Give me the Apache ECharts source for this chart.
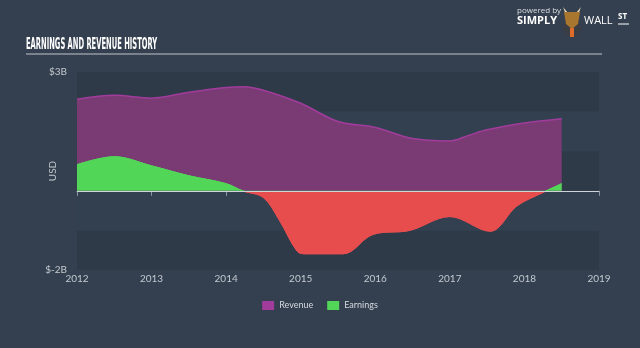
<!DOCTYPE html>
<html>
<head>
<meta charset="utf-8">
<script src="https://cdn.jsdelivr.net/npm/echarts@6/dist/echarts.min.js"></script>
<style>
  html, body { margin: 0; padding: 0; background: #34404f; }
  #chart { width: 640px; height: 348px; }
</style>
</head>
<body>
<div id="chart"></div>
<script>
// Revenue history (USD billions), sampled at decimal-year positions
const revenueYears = [2012.0, 2012.5, 2013.0, 2013.5, 2014.0, 2014.25, 2014.5, 2015.0, 2015.5, 2016.0, 2016.5, 2017.0, 2017.25, 2017.5, 2018.0, 2018.5];
const revenueValues = [2.31, 2.41, 2.34, 2.49, 2.61, 2.63, 2.54, 2.21, 1.75, 1.60, 1.32, 1.26, 1.40, 1.54, 1.71, 1.82];

// Earnings history (USD billions)
const earningsYears = [2012.0, 2012.5, 2013.0, 2013.5, 2014.0, 2014.22, 2014.5, 2014.72, 2014.95, 2015.05, 2015.57, 2015.97, 2016.46, 2017.0, 2017.54, 2017.9, 2018.25, 2018.5];
const earningsValues = [0.66, 0.86, 0.63, 0.38, 0.18, 0.0, -0.17, -0.76, -1.52, -1.59, -1.59, -1.10, -1.00, -0.65, -1.02, -0.38, -0.04, 0.18];

// Axis range and tick labels
const xMin = 2012, xMax = 2019;
const yMin = -2, yMax = 3;
const yTickLabels = { '3': '$3B', '-2': '$-2B' };

const revenueData = revenueYears.map((y, i) => [y, revenueValues[i]]);
const earningsData = earningsYears.map((y, i) => [y, earningsValues[i]]);

const GREEN = '#51d658', RED = '#e84d4e';

const chart = echarts.init(document.getElementById('chart'));
chart.setOption({
  backgroundColor: '#34404f',
  animation: false,
  grid: { left: 77, right: 41, top: 72, bottom: 78 },
  xAxis: {
    type: 'value', min: xMin, max: xMax, interval: 1,
    axisLine: { lineStyle: { color: '#8e98a4', width: 1 } },
    axisTick: { show: true, length: 5, lineStyle: { color: '#8e98a4' } },
    axisLabel: { color: '#c3c9d0', fontSize: 10, fontFamily: 'Lato', margin: 4, formatter: v => String(v) },
    splitLine: { show: false }
  },
  yAxis: {
    type: 'value', min: yMin, max: yMax, interval: 1,
    name: 'USD', nameLocation: 'middle', nameRotate: 90, nameGap: 19, nameMoveOverlap: false,
    nameTextStyle: { color: '#c3c9d0', fontSize: 10, fontFamily: 'Lato' },
    axisLine: { show: false }, axisTick: { show: false },
    axisLabel: { color: '#c3c9d0', fontSize: 10, fontFamily: 'Lato', margin: 10,
      formatter: v => yTickLabels[String(v)] || '' },
    splitLine: { show: false },
    splitArea: { show: true, areaStyle: { color: ['#2e3a48', '#334050'] } }
  },
  legend: {
    data: ['Revenue', 'Earnings'], bottom: 33, left: 'center', icon: 'rect',
    itemWidth: 12, itemHeight: 9, itemGap: 14,
    textStyle: { color: '#d4d9df', fontSize: 9, fontFamily: 'Lato' }
  },
  series: [
    {
      name: 'Revenue', type: 'line', data: revenueData, smooth: 0.35, symbol: 'none',
      itemStyle: { color: '#a23c9c' },
      lineStyle: { color: '#a23c9c', width: 1.5 },
      areaStyle: { color: '#7a3a74', opacity: 1 },
      z: 2
    },
    {
      name: 'Earnings', type: 'line', data: earningsData, smooth: 0.35, symbol: 'none',
      itemStyle: { color: GREEN },
      lineStyle: { width: 1, color: GREEN },
      areaStyle: { opacity: 1, color: GREEN },
      z: 3,
      markLine: {
        silent: true, symbol: 'none', label: { show: false },
        lineStyle: { color: '#d0d4d9', width: 1, type: 'solid' },
        data: [{ yAxis: 0 }]
      }
    }
  ],
  graphic: [
    { type: 'text', left: 26, top: 38,
      style: { text: 'EARNINGS AND REVENUE HISTORY', fill: '#ffffff',
        font: 'bold 15px "DejaVu Sans"' }, scaleX: 0.45 },
    { type: 'line', shape: { x1: 26, y1: 54, x2: 602, y2: 54 },
      style: { stroke: '#bfc5cc', lineWidth: 1 } },
    // brand mark
    { type: 'text', left: 517, top: 7,
      style: { text: 'powered by', fill: '#d9dde2', font: '8px "Open Sans"' } },
    { type: 'text', left: 517, top: 15,
      style: { text: 'SIMPLY', fill: '#ffffff', font: 'bold 11px "Open Sans"' } },
    { type: 'circle', shape: { cx: 572, cy: 28, r: 9 }, style: { fill: '#3a3d44' } },
    { type: 'polygon', shape: { points: [[563, 7], [566, 15], [578, 15], [581, 7], [576, 13], [568, 13]] },
      style: { fill: '#e6d9b8' } },
    { type: 'polygon', shape: { points: [[564, 12], [580, 12], [578, 24], [572, 29], [566, 24]] },
      style: { fill: '#a8762f' } },
    { type: 'rect', shape: { x: 570, y: 28, width: 4, height: 9 }, style: { fill: '#e06a2a' } },
    { type: 'text', left: 584, top: 15,
      style: { text: 'WALL', fill: '#ffffff', font: '11px "Open Sans"' } },
    { type: 'text', left: 618, top: 13,
      style: { text: 'ST', fill: '#ffffff', font: 'bold 8px "Open Sans"' } },
    { type: 'line', shape: { x1: 618, y1: 24, x2: 629, y2: 24 },
      style: { stroke: '#ffffff', lineWidth: 1 } }
  ]
});

// Split earnings colour at the zero line: green above, red below
const zeroY = chart.convertToPixel({ yAxisIndex: 0 }, 0);
const split = zeroY / 348;
const signGradient = () => new echarts.graphic.LinearGradient(0, 0, 0, 348, [
  { offset: 0, color: GREEN }, { offset: split, color: GREEN },
  { offset: split, color: RED }, { offset: 1, color: RED }
], true);
chart.setOption({
  series: [{}, {
    lineStyle: { color: signGradient() },
    areaStyle: { color: signGradient() }
  }]
});
</script>
</body>
</html>
